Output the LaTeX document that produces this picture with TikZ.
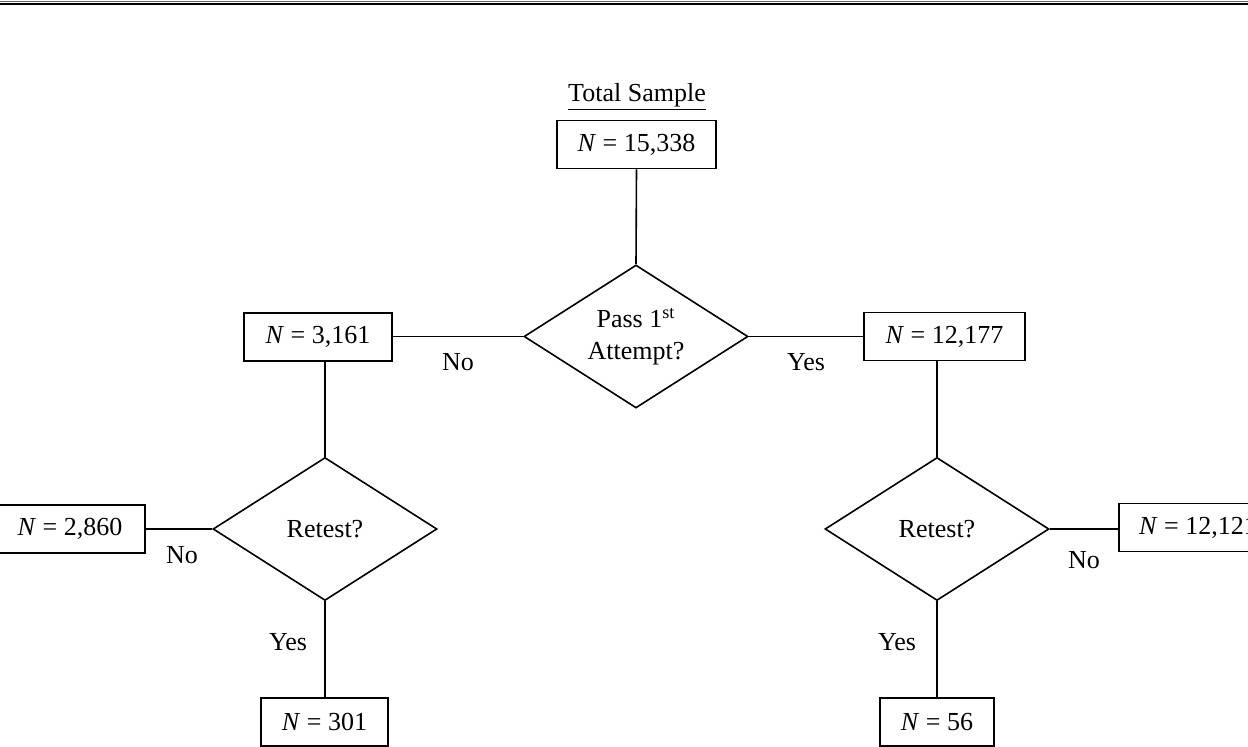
\documentclass[tikz,border=0pt]{standalone}
\usepackage{fontspec}
\setmainfont{Liberation Serif}
\usetikzlibrary{shapes.geometric}
\begin{document}
\begin{tikzpicture}[x=0.5pt,y=-0.5pt,
  every node/.style={font=\fontsize{13}{16}\selectfont, inner sep=0pt},
  box/.style={draw, line width=0.8pt, rectangle, minimum height=24pt},
  decision/.style={draw, line width=0.8pt, diamond, aspect=1.56, minimum width=112pt, minimum height=71.5pt, align=center},
  conn/.style={line width=0.8pt},
  lbl/.style={}]
\useasboundingbox (0,0) rectangle (1248,747);
\clip (0,0) rectangle (1248,747);
% top rule
\draw[line width=0.35pt, black!60] (0,1.5) -- (1248,1.5);
\draw[line width=0.7pt] (0,4) -- (1248,4);
% title
\node (title) at (637,97) {\underline{Total Sample}};
% boxes
\node[box, minimum width=79.5pt] (b0) at (636.5,144.5) {\textit{N} = 15,338};
\node[box, minimum width=74pt] (b1) at (318,337) {\textit{N} = 3,161};
\node[box, minimum width=80.5pt] (b2) at (944.5,336.5) {\textit{N} = 12,177};
\node[box, minimum width=75pt] (b3) at (70,529) {\textit{N} = 2,860};
\node[box, minimum width=79pt] (b4) at (1198,527.5) {\textit{N} = 12,121};
\node[box, minimum width=63.5pt] (b5) at (324.5,722) {\textit{N} = 301};
\node[box, minimum width=57pt] (b6) at (937,722) {\textit{N} = 56};
% decisions
\node[decision] (d1) at (636,336.5) {Pass 1\textsuperscript{st}\\Attempt?};
\node[decision] (d2) at (325,529) {Retest?};
\node[decision] (d3) at (937,529) {Retest?};
% connectors
\draw[conn] (b0.south) -- (d1.north);
\draw[conn] (d1.west) -- (d1.west -| b1.east);
\draw[conn] (d1.east) -- (d1.east -| b2.west);
\draw[conn] (d2.north) -- (d2.north |- b1.south);
\draw[conn] (d3.north) -- (d3.north |- b2.south);
\draw[conn] (d2.west) -- (d2.west -| b3.east);
\draw[conn] (d3.east) -- (d3.east -| b4.west);
\draw[conn] (d2.south) -- (d2.south |- b5.north);
\draw[conn] (d3.south) -- (d3.south |- b6.north);
% labels
\node[lbl] (l1) at (458,362) {No};
\node[lbl] (l2) at (806,362) {Yes};
\node[lbl] (l3) at (182,555) {No};
\node[lbl] (l4) at (1084,560) {No};
\node[lbl] (l5) at (288,642) {Yes};
\node[lbl] (l6) at (897,642) {Yes};
\end{tikzpicture}
\end{document}
